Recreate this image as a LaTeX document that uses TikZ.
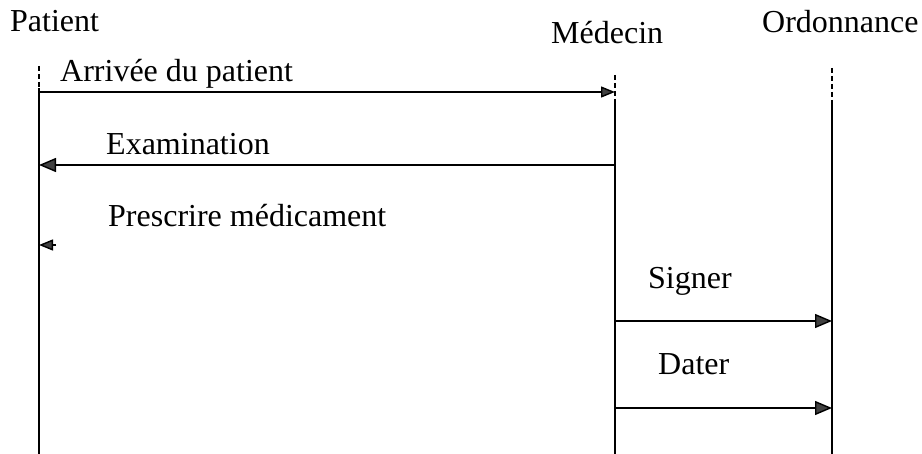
\documentclass[tikz,border=0pt]{standalone}
\usepackage{fontspec}
\setmainfont{Liberation Serif}
\usetikzlibrary{arrows.meta}
\begin{document}
\begin{tikzpicture}[x=1pt,y=-1pt,
  lbl/.style={anchor=base west,inner sep=0pt,font=\fontsize{32}{38}\selectfont},
  life/.style={line width=1.6pt,black},
  lifetop/.style={line width=1.6pt,black,dash pattern=on 5pt off 3pt},
  msg/.style={line width=1.4pt,black,-{Triangle[length=17pt,width=14pt,fill=black!75]}},
  smallmsg/.style={line width=1.4pt,black,-{Triangle[length=14pt,width=11pt,fill=black!75]}}]
  \useasboundingbox (0,0) rectangle (922,454);

  % actor names
  \node[lbl] (patient) at (10,32) {Patient};
  \node[lbl] (medecin) at (551,44) {Médecin};
  \node[lbl] (ordo) at (762,33) {Ordonnance};

  % lifelines: dashed head, solid body
  \coordinate (pTop) at (39,66);  \coordinate (pMid) at (39,88);  \coordinate (pBot) at (39,454);
  \coordinate (mTop) at (615,75); \coordinate (mMid) at (615,100); \coordinate (mBot) at (615,454);
  \coordinate (oTop) at (832,68); \coordinate (oMid) at (832,105); \coordinate (oBot) at (832,454);
  \draw[lifetop] (pTop) -- (pMid);
  \draw[life] (pMid) -- (pBot);
  \draw[lifetop] (mTop) -- (mMid);
  \draw[life] (mMid) -- (mBot);
  \draw[lifetop] (oTop) -- (oMid);
  \draw[life] (oMid) -- (oBot);

  % message anchor points on the lifelines
  \coordinate (p1) at (39,92);   \coordinate (m1) at (615,92);
  \coordinate (m2) at (615,165); \coordinate (p2) at (39,165);
  \coordinate (s3) at (56,245);  \coordinate (p3) at (39,245);
  \coordinate (m4) at (615,321); \coordinate (o4) at (832,321);
  \coordinate (m5) at (615,408); \coordinate (o5) at (832,408);

  % messages
  \draw[smallmsg] (p1) -- (m1);
  \draw[msg] (m2) -- (p2);
  \draw[smallmsg] (s3) -- (p3);
  \draw[msg] (m4) -- (o4);
  \draw[msg] (m5) -- (o5);

  % message labels
  \node[lbl] (l1) at (60,82) {Arrivée du patient};
  \node[lbl] (l2) at (106,155) {Examination};
  \node[lbl] (l3) at (108,227) {Prescrire médicament};
  \node[lbl] (l4) at (648,289) {Signer};
  \node[lbl] (l5) at (658,375) {Dater};
\end{tikzpicture}
\end{document}
